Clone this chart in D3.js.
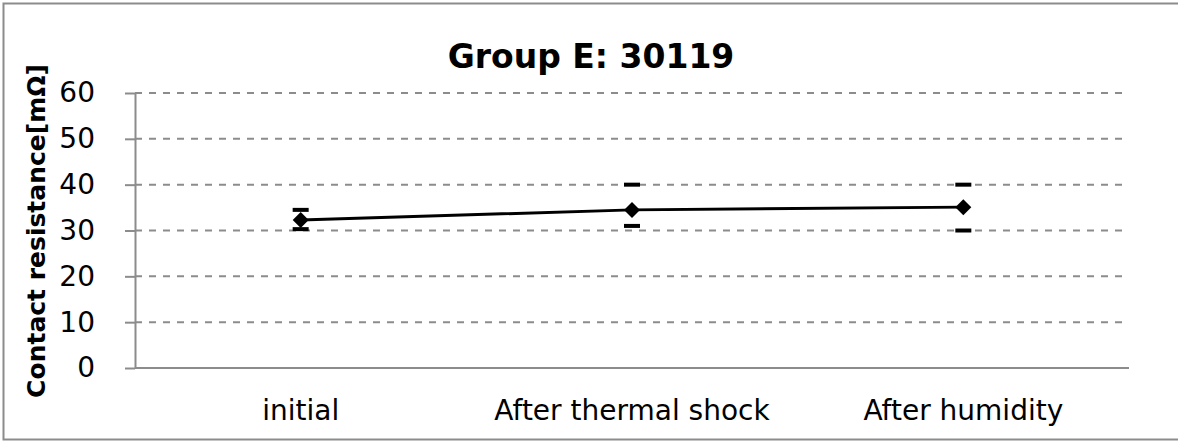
<!DOCTYPE html>
<head>
<meta charset="utf-8">
</head>
<style>
body { margin: 0; background: #fff; }
text { font-family: "DejaVu Sans", Verdana, sans-serif; fill: #000; }
.grid line { stroke: #8c8c8c; stroke-width: 2; stroke-dasharray: 7,7; }
.axis path, .axis line { stroke: #8c8c8c; stroke-width: 2; }
</style>
<body>
<svg id="chart" width="1178" height="443"></svg>

<script src="https://cdn.jsdelivr.net/npm/d3@7"></script>
<script>

var categories = ["initial", "After thermal shock", "After humidity"];
var avgValues = [32.3, 34.5, 35.1];
var maxValues = [34.5, 40.0, 40.0];
var minValues = [30.3, 31.0, 30.0];
var yTicks = [0, 10, 20, 30, 40, 50, 60];

var svg = d3.select("#chart");
var plotLeft = 135, plotRight = 1129, plotTop = 93, plotBottom = 368;

// outer frame
svg.append("rect")
    .attr("x", 3.5).attr("y", 3.5)
    .attr("width", 1190).attr("height", 436)
    .attr("fill", "none")
    .attr("stroke", "#8c8c8c")
    .attr("stroke-width", 2);

var x = d3.scaleBand().domain(categories).range([plotLeft, plotRight]);
var y = d3.scaleLinear().domain([0, 60]).range([plotBottom, plotTop]);

// grid lines
svg.append("g")
    .attr("class", "grid")
  .selectAll("line")
  .data(yTicks.filter(function(d) { return d > 0; }))
  .enter().append("line")
    .attr("x1", plotLeft).attr("x2", plotRight - 5)
    .attr("y1", function(d) { return y(d); })
    .attr("y2", function(d) { return y(d); });

// y axis
var yAxis = svg.append("g")
    .attr("class", "axis")
    .attr("transform", "translate(" + plotLeft + ",0)")
    .call(d3.axisLeft(y).tickValues(yTicks).tickSize(10).tickPadding(30).tickSizeOuter(0));
yAxis.selectAll("text").style("font-size", "28px");

// x axis
var xAxis = svg.append("g")
    .attr("class", "axis")
    .attr("transform", "translate(0," + plotBottom + ")")
    .call(d3.axisBottom(x).tickSize(0).tickSizeOuter(0));
xAxis.select("path").attr("d", "M" + plotLeft + ",0H" + plotRight);
xAxis.selectAll("text")
    .style("font-size", "28px")
    .attr("y", 52).attr("dy", 0);

// line
var pts = categories.map(function(c, i) { return [x(c) + x.bandwidth() / 2, y(avgValues[i])]; });
svg.append("path")
    .attr("d", d3.line()(pts))
    .attr("fill", "none")
    .attr("stroke", "#000")
    .attr("stroke-width", 3);

// error caps
var caps = [];
categories.forEach(function(c, i) {
  caps.push({c: c, v: maxValues[i]});
  caps.push({c: c, v: minValues[i]});
});
svg.selectAll(".cap")
  .data(caps)
  .enter().append("rect")
    .attr("class", "cap")
    .attr("x", function(d) { return x(d.c) + x.bandwidth() / 2 - 8; })
    .attr("y", function(d) { return y(d.v) - 2; })
    .attr("width", 16)
    .attr("height", 4)
    .attr("fill", "#000");

// markers
svg.selectAll(".marker")
  .data(categories)
  .enter().append("path")
    .attr("class", "marker")
    .attr("transform", function(d, i) { return "translate(" + (x(d) + x.bandwidth() / 2) + "," + y(avgValues[i]) + ")"; })
    .attr("d", "M0,-8L8,0L0,8L-8,0Z")
    .attr("fill", "#000");

// title
svg.append("text")
    .attr("x", 591).attr("y", 68)
    .attr("text-anchor", "middle")
    .style("font-size", "33px")
    .style("font-weight", "bold")
    .text("Group E: 30119");

// y axis title
svg.append("text")
    .attr("transform", "translate(45,231) rotate(-90)")
    .attr("text-anchor", "middle")
    .style("font-size", "25px")
    .style("font-weight", "bold")
    .text("Contact resistance[mΩ]");

</script>
</body>
